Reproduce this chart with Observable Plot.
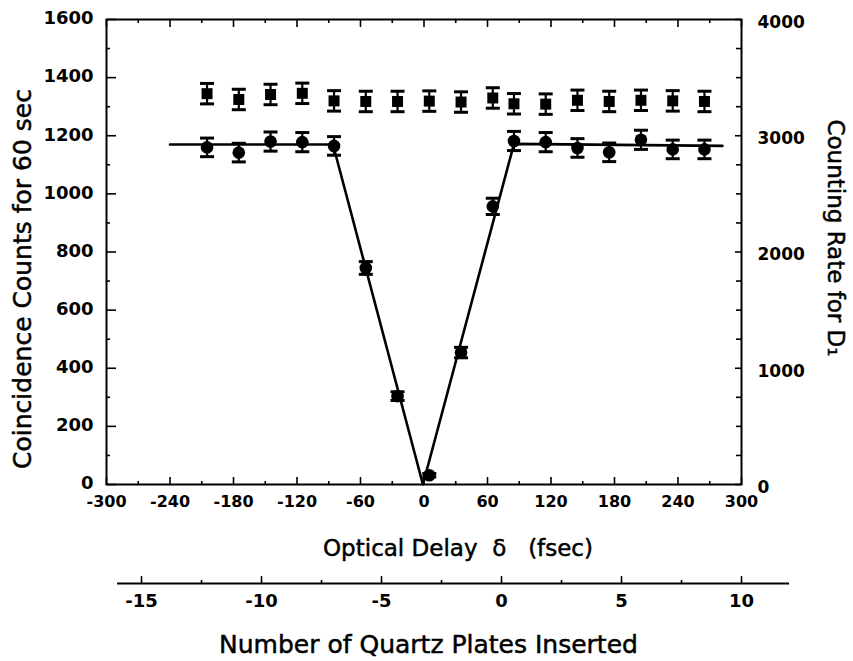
<!DOCTYPE html>
<html><head><meta charset="utf-8">
<script src="https://cdn.jsdelivr.net/npm/d3@7"></script>
<script src="https://cdn.jsdelivr.net/npm/@observablehq/plot@0.6"></script>
<style>body{margin:0;background:#fff} svg{display:block}</style>
</head><body><div id="chart"></div>
<script>
// ---- data ----
const delays = [-205,-175,-145,-115,-85,-55,-25,5,35,65,85,115,145,175,205,235,265];
const coincidences = [1160,1142,1180,1178,1165,745,304,32,454,957,1182,1178,1158,1143,1186,1153,1153];
const coincidenceErrors = [32,32,33,33,32,22,15,6,18,28,33,33,32,32,33,32,32];
const ratesD1 = [3362,3312,3355,3365,3300,3295,3295,3298,3290,3325,3275,3272,3305,3295,3305,3300,3295];
const rateErrors = [88,88,88,88,88,88,88,88,88,88,88,88,88,88,88,88,88];
const fitDelays = [-240,-86,-1,85,282];
const fitCounts = [1170,1170,0,1172,1165];
const delayTicks = [-300,-240,-180,-120,-60,0,60,120,180,240,300];
const delayMinorTicks = [-270,-210,-150,-90,-30,30,90,150,210,270];
const countTicks = [0,200,400,600,800,1000,1200,1400,1600];
const countMinorTicks = [100,300,500,700,900,1100,1300,1500];
const rateTicks = [0,1000,2000,3000,4000];
const rateMinorTicks = [250,500,750,1250,1500,1750,2250,2500,2750,3250,3500,3750];
const plateTicks = [-15,-10,-5,0,5,10];
const plateMinorTicks = [-12.5,-7.5,-2.5,2.5,7.5];
const countMax = 1600, rateMax = 4000;
const k = countMax / rateMax; // right axis -> left axis units

const coinc = delays.map((d, i) => ({delay: d, count: coincidences[i], err: coincidenceErrors[i]}));
const rates = delays.map((d, i) => ({delay: d, rate: ratesD1[i], err: rateErrors[i]}));
const fit = fitDelays.map((d, i) => ({delay: d, count: fitCounts[i]}));

const capSymbol = {draw(ctx, size) { const w = Math.sqrt(size / Math.PI); ctx.moveTo(-w, 0); ctx.lineTo(w, 0); }};
const fmt = d => String(Math.round(d)); // plain hyphen, no thousands separator

const W = 853, mL = 106, mR = 112, mT = 19, H = 570, mB = 86;
const fw = W - mL - mR, fh = H - mT - mB;
const font = "DejaVu Sans";

const main = Plot.plot({
  width: W, height: H,
  marginLeft: mL, marginRight: mR, marginTop: mT, marginBottom: mB,
  style: {fontFamily: font, background: "#fff", color: "#000"},
  x: {domain: [-300, 300]},
  y: {domain: [0, countMax]},
  marks: [
    // bottom (inward) ticks
    Plot.axisX(delayTicks, {anchor: "top", dy: fh, tickSize: 8, strokeWidth: 1.6, fill: "none", label: null}),
    Plot.axisX(delayMinorTicks, {anchor: "top", dy: fh, tickSize: 4, strokeWidth: 1.6, fill: "none", label: null}),
    // top (inward) ticks
    Plot.axisX(delayTicks, {anchor: "bottom", dy: -fh, tickSize: 8, strokeWidth: 1.6, fill: "none", label: null}),
    Plot.axisX(delayMinorTicks, {anchor: "bottom", dy: -fh, tickSize: 4, strokeWidth: 1.6, fill: "none", label: null}),
    // bottom labels
    Plot.axisX(delayTicks, {anchor: "bottom", tickSize: 0, tickPadding: 11, fontSize: 16, fontWeight: "bold", tickFormat: fmt, label: null}),
    // left ticks (inward)
    Plot.axisY(countTicks, {anchor: "right", dx: -fw, tickSize: 9, strokeWidth: 1.6, fill: "none", label: null}),
    Plot.axisY(countMinorTicks, {anchor: "right", dx: -fw, tickSize: 3, strokeWidth: 1.6, fill: "none", label: null}),
    Plot.axisY(countTicks, {anchor: "left", tickSize: 0, tickPadding: 13, dy: -1, fontSize: 18, fontWeight: "bold", tickFormat: fmt, label: null}),
    // right ticks (inward), counting-rate units
    Plot.axisY(rateTicks.map(r => r * k), {anchor: "left", dx: fw, tickSize: 6, strokeWidth: 1.6, fill: "none", label: null}),
    Plot.axisY(rateMinorTicks.map(r => r * k), {anchor: "left", dx: fw, tickSize: 5, strokeWidth: 1.6, fill: "none", label: null}),
    Plot.axisY(rateTicks.map(r => r * k), {anchor: "right", tickSize: 0, tickPadding: 16, dy: 3, fontSize: 17, fontWeight: "bold", tickFormat: d => fmt(d / k), label: null}),
    Plot.frame({strokeWidth: 2}),
    // fitted curve
    Plot.line(fit, {x: "delay", y: "count", stroke: "black", strokeWidth: 2.6}),
    // counting rate D1 (squares)
    Plot.ruleX(rates, {x: "delay", y1: d => (d.rate - d.err) * k, y2: d => (d.rate + d.err) * k, strokeWidth: 2.2}),
    Plot.dot(rates, {x: "delay", y: d => (d.rate - d.err) * k, symbol: capSymbol, r: 7, stroke: "black", strokeWidth: 3, fill: "none"}),
    Plot.dot(rates, {x: "delay", y: d => (d.rate + d.err) * k, symbol: capSymbol, r: 7, stroke: "black", strokeWidth: 3, fill: "none"}),
    Plot.dot(rates, {x: "delay", y: d => d.rate * k, symbol: "square", r: 6.2, fill: "black"}),
    // coincidence counts (circles)
    Plot.ruleX(coinc, {x: "delay", y1: d => d.count - d.err, y2: d => d.count + d.err, strokeWidth: 2.2}),
    Plot.dot(coinc, {x: "delay", y: d => d.count - d.err, symbol: capSymbol, r: 7, stroke: "black", strokeWidth: 3, fill: "none"}),
    Plot.dot(coinc, {x: "delay", y: d => d.count + d.err, symbol: capSymbol, r: 7, stroke: "black", strokeWidth: 3, fill: "none"}),
    Plot.dot(coinc, {x: "delay", y: "count", r: 6.3, fill: "black"}),
    // axis titles
    Plot.text(["Optical Delay\u00a0\u00a0δ\u00a0\u00a0\u00a0(fsec)"], {frameAnchor: "bottom", dy: 71, dx: 34, textAnchor: "middle", fontSize: 23, fill: "black", stroke: "black", strokeWidth: 0.5}),
    Plot.text(["Coincidence Counts for 60 sec"], {frameAnchor: "left", dx: -84, dy: 27, rotate: -90, textAnchor: "middle", fontSize: 25, fill: "black", stroke: "black", strokeWidth: 0.5}),
    Plot.text(["Counting Rate for D\u2081"], {frameAnchor: "right", dx: 94, dy: -14, rotate: 90, textAnchor: "middle", fontSize: 23, fill: "black", stroke: "black", strokeWidth: 0.5})
  ]
});

const plates = Plot.plot({
  width: W, height: 661 - H,
  marginLeft: 141, marginRight: 112, marginTop: 13, marginBottom: 661 - H - 13,
  style: {fontFamily: font, background: "#fff", color: "#000"},
  x: {domain: [-15, 10]},
  y: {domain: [0, 1]},
  marks: [
    Plot.ruleY([0], {x1: -16, x2: 12, strokeWidth: 2}),
    Plot.axisX(plateTicks, {anchor: "top", tickSize: 8, strokeWidth: 1.6, fill: "none", label: null}),
    Plot.axisX(plateMinorTicks, {anchor: "top", tickSize: 4, strokeWidth: 1.6, fill: "none", label: null}),
    Plot.axisX(plateTicks, {anchor: "bottom", tickSize: 0, tickPadding: 11, fontSize: 18, fontWeight: "bold", tickFormat: fmt, label: null}),
    Plot.text(["Number of Quartz Plates Inserted"], {frameAnchor: "bottom", dy: 69, dx: -13, textAnchor: "middle", fontSize: 25, fill: "black", stroke: "black", strokeWidth: 0.5})
  ]
});

document.getElementById("chart").append(main, plates);
</script>
</body></html>
